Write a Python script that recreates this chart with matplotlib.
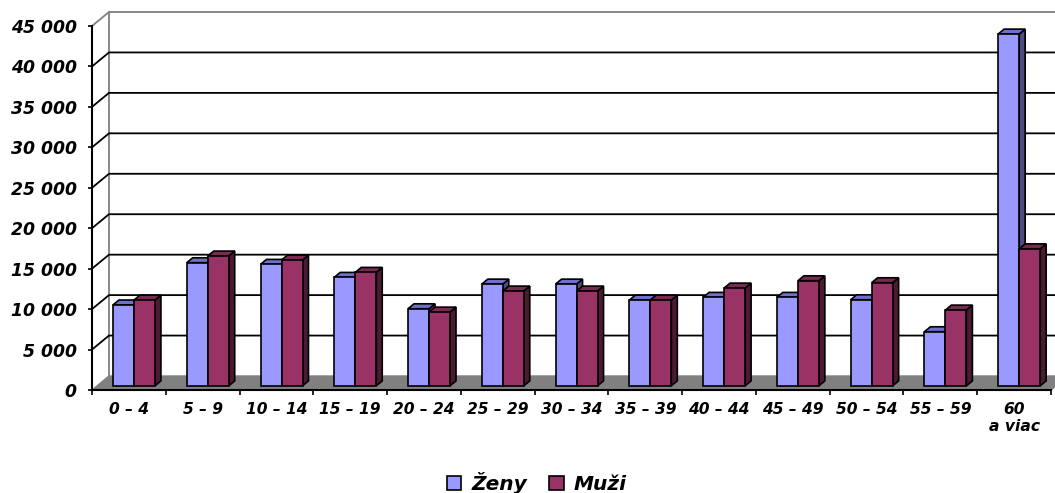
import matplotlib.pyplot as plt
from matplotlib.patches import Patch

# vekové skupiny a počty obyvateľov
groups = ['0 – 4', '5 – 9', '10 – 14', '15 – 19', '20 – 24', '25 – 29', '30 – 34',
          '35 – 39', '40 – 44', '45 – 49', '50 – 54', '55 – 59', '60\na viac']
zeny = [10000, 15220, 15020, 13410, 9530, 12580, 12580, 10600, 10940, 10940, 10640, 6690, 43490]
muzi = [10600, 16050, 15550, 14030, 9120, 11720, 11720, 10600, 12090, 12990, 12750, 9370, 16940]
yticks = list(range(0, 45001, 5000))

W, H = 1055, 493
fig = plt.figure(figsize=(W / 100, H / 100), dpi=100)
ax = fig.add_axes([92 / W, (H - 390) / H, (1051 - 92) / W, (390 - 26) / H])
ax.set_facecolor('none')
n = len(groups)
ax.set_xlim(0, n)
ax.set_ylim(0, 45000)

# pixel -> data conversion for the fake 3D depth
pxx = (1051 - 92) / n
pxy = 364 / 45000
DX, DY = 17 / pxx, 14 / pxy          # floor / wall depth
fx, fy = 0.3 * DX, 0.3 * DY          # bar front plane offset
bx, by = 0.35 * DX, 0.35 * DY        # bar depth
w = 21 / pxx

# floor
ax.fill([0, n, n + DX, DX], [0, 0, DY, DY], color='#808080', zorder=0.5, clip_on=False)
# wall edge and gridlines (side wall diagonal + back wall)
ax.plot([DX, DX], [DY, 45000 + DY], color='#808080', lw=1.3, zorder=1, clip_on=False)
for v in yticks[1:]:
    c = '#808080' if v == yticks[-1] else 'black'
    ax.plot([0, DX, n + DX], [v, v + DY, v + DY], color=c, lw=1.3, zorder=1, clip_on=False)

series = [
    (zeny, -w, '#9999FF', '#6F6FD0', '#4D4D80'),
    (muzi, 0, '#993366', '#7A2952', '#4D1A33'),
]
for k, (vals, shift, front, top, side) in enumerate(series):
    z = 3 + 2 * k
    xs = [i + 0.5 + shift + fx for i in range(n)]
    for x0, h in zip(xs, vals):
        x1 = x0 + w
        y0, y1 = fy, fy + h
        ax.fill([x1, x1 + bx, x1 + bx, x1], [y0, y0 + by, y1 + by, y1],
                fc=side, ec='black', lw=1.2, zorder=z, clip_on=False)
        ax.fill([x0, x1, x1 + bx, x0 + bx], [y1, y1, y1 + by, y1 + by],
                fc=top, ec='black', lw=1.2, zorder=z, clip_on=False)
    ax.bar(xs, vals, width=w, bottom=fy, align='edge', color=front,
           edgecolor='black', lw=1.2, zorder=z + 0.5, clip_on=False)

for s in ['top', 'right']:
    ax.spines[s].set_visible(False)
for s in ['left', 'bottom']:
    ax.spines[s].set_linewidth(1.5)
    ax.spines[s].set_zorder(10)

ax.set_yticks(yticks)
ax.set_yticklabels([f'{v:,}'.replace(',', ' ') for v in yticks],
                   fontsize=12.4, fontweight='bold', fontstyle='italic')
ax.tick_params(axis='y', direction='out', length=3, width=1.2, pad=8)

ax.set_xticks(range(n + 1))
ax.set_xticklabels([])
ax.tick_params(axis='x', which='major', direction='out', length=3.6, width=1.2)
ax.set_xticks([i + 0.5 for i in range(n)], minor=True)
ax.set_xticklabels(groups, minor=True, fontsize=11.2, fontweight='bold', fontstyle='italic')
ax.tick_params(axis='x', which='minor', length=0, pad=8.5)

handles = [Patch(facecolor='#9999FF', edgecolor='black', lw=1.2),
           Patch(facecolor='#993366', edgecolor='black', lw=1.2)]
fig.legend(handles, ['Ženy', 'Muži'], loc='center', bbox_to_anchor=(537 / W, 1 - 483 / H),
           ncol=2, frameon=False, handlelength=0.7, handleheight=0.7, handletextpad=0.5,
           columnspacing=1.1, prop={'size': 14.5, 'weight': 'bold', 'style': 'italic'})

fig.savefig('out.png', dpi=100)
